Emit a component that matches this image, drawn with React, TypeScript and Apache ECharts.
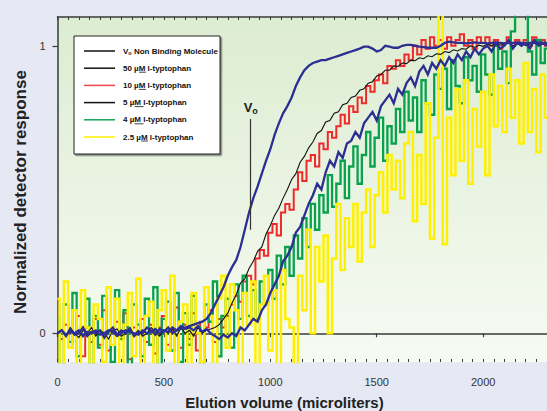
import React, { useEffect, useRef } from "react";
import * as echarts from "echarts";

// sampling step of the traces (microliters)
const volumeStep = 20;

const voNonBinding = [
  0.0, 0.01, -0.005, 0.005, 0.0, 0.01, -0.01, 0.005, 0.0, 0.01,
  -0.005, 0.0, 0.01, 0.005, -0.01, 0.0, 0.01, 0.005, 0.0, -0.005,
  0.01, 0.0, 0.005, 0.015, 0.0, 0.01, 0.005, 0.02, 0.01, 0.015,
  0.02, 0.025, 0.03, 0.035, 0.04, 0.05, 0.07, 0.1, 0.13, 0.16,
  0.2, 0.23, 0.255, 0.3, 0.36, 0.42, 0.47, 0.51, 0.555, 0.6,
  0.64, 0.69, 0.73, 0.765, 0.79, 0.82, 0.86, 0.89, 0.915, 0.93,
  0.94, 0.945, 0.95, 0.95, 0.955, 0.96, 0.965, 0.97, 0.975, 0.98,
  0.985, 0.99, 0.997, 0.997, 0.99, 0.98, 0.985, 1.0, 0.997, 0.993,
  0.993, 1.0, 1.003, 1.003, 1.0, 0.997, 0.995, 0.993, 0.993, 0.993,
  1.0, 1.01, 1.014, 1.012, 1.01, 1.01, 1.008, 1.01, 1.012, 1.01,
  1.01, 1.008, 1.01, 1.012, 1.01, 1.008, 1.01, 1.01, 1.012, 1.01,
  1.008, 1.01, 1.01, 1.012, 1.01, 1.01,
];

const trp50 = [
  0.0, 0.01, -0.01, 0.02, 0.0, -0.015, 0.01, 0.0, 0.02, -0.01,
  0.01, 0.0, -0.02, 0.01, 0.015, -0.01, 0.0, 0.02, -0.005, 0.01,
  -0.01, 0.0, 0.02, 0.005, -0.01, 0.01, 0.0, 0.015, -0.01, 0.02,
  0.0, 0.01, -0.01, 0.02, 0.0, 0.01, 0.015, 0.02, 0.03, 0.05,
  0.07, 0.105, 0.135, 0.175, 0.19, 0.225, 0.25, 0.285, 0.3, 0.345,
  0.375, 0.41, 0.435, 0.47, 0.5, 0.535, 0.555, 0.595, 0.615, 0.645,
  0.665, 0.695, 0.705, 0.735, 0.74, 0.765, 0.77, 0.795, 0.8, 0.82,
  0.825, 0.845, 0.85, 0.87, 0.875, 0.895, 0.9, 0.915, 0.915, 0.93,
  0.928, 0.94, 0.938, 0.95, 0.948, 0.958, 0.955, 0.965, 0.962, 0.972,
  0.97, 0.98, 0.976, 0.986, 0.982, 0.99, 0.988, 1.0, 0.994, 1.002,
  0.998, 1.006, 1.0, 1.01, 1.002, 1.006, 1.01, 1.0, 1.006, 1.01,
  1.0, 1.006, 1.01, 1.0, 1.006, 1.002,
];

const trp10 = [
  0.01, -0.02, 0.03, -0.05, 0.0, 0.06, -0.08, 0.02, -0.03, 0.05,
  -0.04, 0.08, -0.06, 0.01, 0.04, -0.02, 0.07, -0.09, 0.02, 0.0,
  0.05, -0.03, 0.03, -0.07, 0.02, 0.06, -0.04, 0.01, 0.09, -0.05,
  0.03, -0.02, 0.07, -0.06, 0.04, 0.02, 0.08, -0.03, 0.05, 0.02,
  0.06, 0.1, 0.13, 0.11, 0.18, 0.2, 0.17, 0.26, 0.29, 0.27,
  0.35, 0.38, 0.34, 0.42, 0.45, 0.43, 0.5, 0.56, 0.53, 0.6,
  0.62, 0.58, 0.66, 0.64, 0.7, 0.68, 0.72, 0.76, 0.73, 0.79,
  0.77, 0.82, 0.8, 0.86, 0.84, 0.88, 0.9, 0.87, 0.93, 0.92,
  0.95, 0.93, 0.97, 0.95, 1.0, 0.97, 1.02, 0.99, 1.03, 1.0,
  1.02, 0.99, 1.03, 1.0, 1.02, 1.04, 1.0, 1.02, 0.99, 1.03,
  1.01, 1.03, 1.0, 1.02, 0.99, 1.01, 1.03, 1.0, 1.02, 1.01,
  1.02, 1.0, 1.03, 1.01, 1.02, 1.0,
];

const trp5 = [
  0.0, 0.01, -0.01, 0.015, -0.005, 0.0, 0.02, -0.01, 0.005, 0.0,
  0.01, -0.015, 0.005, 0.02, -0.005, 0.01, 0.0, 0.015, -0.01, 0.005,
  0.0, 0.02, 0.01, -0.005, 0.015, 0.005, 0.02, 0.0, 0.01, 0.025,
  0.015, 0.02, 0.01, 0.025, 0.005, 0.015, 0.0, -0.01, -0.02, -0.005,
  -0.015, 0.0, -0.01, 0.02, 0.01, 0.03, 0.05, 0.04, 0.08, 0.1,
  0.14, 0.17, 0.2, 0.25, 0.27, 0.3, 0.35, 0.37, 0.41, 0.45,
  0.48, 0.52, 0.5, 0.56, 0.6, 0.58, 0.63, 0.61, 0.66, 0.67,
  0.7, 0.68, 0.73, 0.75, 0.77, 0.74, 0.79, 0.81, 0.83, 0.8,
  0.85, 0.83, 0.87, 0.89, 0.86, 0.91, 0.93, 0.9, 0.94, 0.92,
  0.95, 0.93, 0.96, 0.94, 0.97, 0.95, 0.98, 0.96, 0.99, 0.97,
  0.99, 1.0, 0.98, 1.01, 0.99, 1.0, 1.02, 0.99, 1.01, 1.0,
  1.01, 0.99, 1.02, 1.0, 1.01, 1.0,
];

const trp4 = [
  0.05, -0.12, 0.1, -0.03, 0.14, -0.08, 0.02, 0.12, -0.12, 0.06,
  -0.05, 0.13, 0.0, -0.1, 0.15, -0.02, 0.08, -0.12, 0.1, 0.03,
  -0.08, 0.12, -0.04, 0.16, -0.11, 0.05, 0.11, -0.06, 0.14, -0.1,
  0.07, -0.04, 0.13, 0.02, -0.12, 0.1, 0.04, 0.18, -0.08, 0.06,
  0.12, -0.05, 0.17, 0.05, 0.2, 0.06, 0.15, 0.05, 0.18, 0.1,
  0.22, 0.12, 0.27, 0.17, 0.3, 0.2, 0.34, 0.26, 0.4, 0.3,
  0.45, 0.36, 0.48, 0.42, 0.55, 0.44, 0.52, 0.6, 0.47, 0.58,
  0.65, 0.52, 0.62, 0.7, 0.58, 0.68, 0.75, 0.6, 0.72, 0.66,
  0.78, 0.7, 0.84, 0.74, 0.82, 0.7, 0.88, 0.8, 0.76, 0.9,
  0.85, 0.92, 0.78, 0.95, 0.86, 0.8, 0.96, 0.88, 0.93, 0.84,
  0.97, 0.9, 0.83, 1.0, 0.92, 0.98, 0.87, 1.05, 1.12, 1.15,
  1.13, 0.98, 0.9, 1.02, 0.94, 0.99,
];

const trp25 = [
  0.12, -0.15, 0.18, -0.05, 0.08, -0.12, 0.15, 0.02, -0.15, 0.1,
  0.05, -0.1, 0.16, -0.04, 0.12, -0.15, 0.03, 0.14, -0.08, 0.19,
  -0.12, 0.06, 0.11, -0.15, 0.08, 0.15, -0.06, 0.2, -0.13, 0.04,
  0.1, -0.15, 0.14, 0.0, -0.1, 0.16, 0.06, -0.15, 0.12, 0.2,
  -0.05, 0.17, 0.08, -0.15, 0.14, 0.03, 0.18, -0.15, 0.1, 0.2,
  -0.06, 0.15, -0.15, 0.22, 0.05, 0.02, -0.15, 0.2, 0.08, 0.36,
  0.0, 0.3, 0.18, 0.34, 0.0, 0.26, 0.45, 0.22, 0.4, 0.3,
  0.45, 0.25, 0.42, 0.5, 0.3, 0.48, 0.56, 0.42, 0.62, 0.5,
  0.6, 0.47, 0.66, 0.7, 0.39, 0.62, 0.45, 0.8, 0.33, 0.68,
  1.15, 0.31, 0.75, 0.55, 0.85, 0.6, 0.88, 0.52, 0.78, 0.65,
  0.84, 0.55, 0.9, 0.72, 0.86, 0.7, 0.92, 0.75, 0.88, 0.66,
  0.94, 0.7, 0.85, 0.63, 0.9, 0.75,
];

const xTickValues = [0, 500, 1000, 1500, 2000];
const yTickValues = [0, 1];
const voMarkerVolume = 908;
const voMarkerRange = [0.36, 0.745];

const legendLabels = [
  "{b|V}{s|o}{b| Non Binding Molecule}",
  "{b|50 µM l-typtophan}",
  "{b|10 µM l-typtophan}",
  "{b|5 µM l-typtophan}",
  "{b|4 µM l-typtophan}",
  "{b|2.5 µM l-typtophan}",
];
const legendColors = ["#111111", "#111111", "#f04646", "#111111", "#17a35a", "#fff000"];

const FF = '"Liberation Sans", Arial, Helvetica, sans-serif';
const NAVY = "#2b2f92";

const toPairs = (vals: number[]) => vals.map((v, i) => [i * volumeStep, v]);

function lineSeries(name: string, vals: number[], color: string, width: number, step: any, extra: any = {}) {
  return {
    type: "line",
    name,
    data: toPairs(vals),
    showSymbol: false,
    symbol: "none",
    step,
    silent: true,
    lineStyle: { color, width, join: "miter" },
    itemStyle: { color },
    emphasis: { disabled: true },
    ...extra,
  };
}

function buildOption() {
  const axisColor = "#3a3a3a";
  const gradient = new echarts.graphic.LinearGradient(0, 0, 0, 1, [
    { offset: 0, color: "#dcecd1" },
    { offset: 1, color: "#f7fbf3" },
  ]);

  const legendX = 74;
  const legendY = 36;
  const rowY = (k: number) => 51 + k * 17.2;
  const legendChildren: any[] = [
    {
      type: "rect",
      shape: { x: legendX, y: legendY, width: 146, height: 118 },
      style: {
        fill: "#ffffff",
        stroke: "#222222",
        lineWidth: 1,
        shadowColor: "rgba(0,0,0,0.45)",
        shadowOffsetX: 1.5,
        shadowOffsetY: 1.5,
        shadowBlur: 1,
      },
    },
  ];
  legendLabels.forEach((lab, k) => {
    legendChildren.push({
      type: "line",
      shape: { x1: 84, y1: rowY(k), x2: 115, y2: rowY(k) },
      style: { stroke: legendColors[k], lineWidth: 1.5 },
    });
    legendChildren.push({
      type: "text",
      x: 123,
      y: rowY(k),
      style: {
        text: lab,
        verticalAlign: "middle",
        align: "left",
        rich: {
          b: { fontSize: 8, fontWeight: "bold", fontFamily: FF, fill: "#111", color: "#111", lineHeight: 10 },
          s: { fontSize: 5.5, fontWeight: "bold", fontFamily: FF, fill: "#111", color: "#111", lineHeight: 6, verticalAlign: "bottom" },
        },
      },
    });
  });
  // underlines beneath the "M" of µM
  const underlines = [
    [1, 139, 146],
    [2, 139, 146],
    [3, 134.6, 143.5],
    [4, 134.6, 143.5],
    [5, 141.2, 148],
  ];
  underlines.forEach(([k, a, b]) => {
    legendChildren.push({
      type: "line",
      shape: { x1: a, y1: rowY(k) + 4, x2: b, y2: rowY(k) + 4 },
      style: { stroke: "#111", lineWidth: 0.8 },
    });
  });

  const plainNumber = (v: number) => String(v);

  return {
    animation: false,
    backgroundColor: "#e6e8f3",
    textStyle: { fontFamily: FF },
    grid: {
      left: 57.5,
      top: 17,
      width: 493,
      height: 345,
      show: true,
      backgroundColor: gradient,
      borderWidth: 0,
      containLabel: false,
    },
    xAxis: [
      {
        type: "value",
        min: 0,
        max: 2300,
        position: "bottom",
        axisLine: { show: true, lineStyle: { color: axisColor, width: 1.5 } },
        axisTick: { show: true, customValues: xTickValues, length: 4, lineStyle: { color: axisColor, width: 1.2 } },
        axisLabel: {
          show: true,
          customValues: xTickValues,
          formatter: plainNumber,
          color: "#333",
          fontSize: 11,
          margin: 14,
          fontFamily: FF,
        },
        splitLine: { show: false },
      },
      {
        type: "value",
        min: 0,
        max: 2300,
        interval: 50,
        position: "bottom",
        axisLine: { show: false },
        axisTick: { show: true, inside: true, length: 3, lineStyle: { color: axisColor, width: 1 } },
        axisLabel: { show: false },
        splitLine: { show: false },
      },
      {
        type: "value",
        min: 0,
        max: 2300,
        interval: 50,
        position: "top",
        axisLine: { show: true, lineStyle: { color: axisColor, width: 1.5 } },
        axisTick: { show: true, inside: true, length: 3, lineStyle: { color: axisColor, width: 1 } },
        axisLabel: { show: false },
        splitLine: { show: false },
      },
    ],
    yAxis: [
      {
        type: "value",
        min: -0.1,
        max: 1.1,
        position: "left",
        axisLine: { show: true, lineStyle: { color: axisColor, width: 1.5 } },
        axisTick: { show: true, customValues: yTickValues, length: 5, lineStyle: { color: axisColor, width: 1.2 } },
        axisLabel: {
          show: true,
          customValues: yTickValues,
          formatter: plainNumber,
          color: "#333",
          fontSize: 11,
          margin: 12,
          fontFamily: FF,
        },
        splitLine: { show: false },
      },
    ],
    series: [
      lineSeries("10 µM l-typtophan", trp10, "#ee2a2a", 2, "middle"),
      lineSeries("4 µM l-typtophan", trp4, "#08a24c", 2.3, "middle"),
      lineSeries("2.5 µM l-typtophan", trp25, "#fff000", 2.5, "middle"),
      lineSeries("50 µM l-typtophan", trp50, "#111111", 1.1, false),
      lineSeries("5 µM l-typtophan", trp5, NAVY, 2.3, false),
      lineSeries("Vo Non Binding Molecule", voNonBinding, NAVY, 2.3, false, {
        markLine: {
          silent: true,
          symbol: ["none", "none"],
          lineStyle: { color: "#333", width: 1.2, type: "solid" },
          label: {
            show: true,
            position: "end",
            distance: 4,
            formatter: "{v|V}{o|o}",
            rich: {
              v: { fontSize: 13, fontWeight: "bold", color: "#222", fontFamily: FF, lineHeight: 15 },
              o: { fontSize: 9, fontWeight: "bold", color: "#222", fontFamily: FF, lineHeight: 9, verticalAlign: "bottom" },
            },
          },
          data: [
            [
              { coord: [voMarkerVolume, voMarkerRange[0]] },
              { coord: [voMarkerVolume, voMarkerRange[1]] },
            ],
          ],
        },
      }),
    ],
    graphic: [
      { type: "group", z: 100, children: legendChildren },
      {
        type: "text",
        x: 20,
        y: 192,
        rotation: Math.PI / 2,
        z: 100,
        style: {
          text: "Normalized detector response",
          font: `bold 17px ${FF}`,
          fill: "#222",
          align: "center",
          verticalAlign: "middle",
        },
      },
      {
        type: "text",
        x: 284.5,
        y: 402,
        z: 100,
        style: {
          text: "Elution volume (microliters)",
          font: `bold 15px ${FF}`,
          fill: "#222",
          align: "center",
          verticalAlign: "middle",
        },
      },
    ],
  };
}

export default function App() {
  const ref = useRef<HTMLDivElement>(null);
  useEffect(() => {
    if (!ref.current) return;
    const chart = echarts.init(ref.current, null, { renderer: "svg" });
    chart.setOption(buildOption() as any);
    return () => chart.dispose();
  }, []);
  return (
    <div
      ref={ref}
      style={{ position: "fixed", left: 0, top: 0, width: 547, height: 411, overflow: "hidden" }}
    />
  );
}
